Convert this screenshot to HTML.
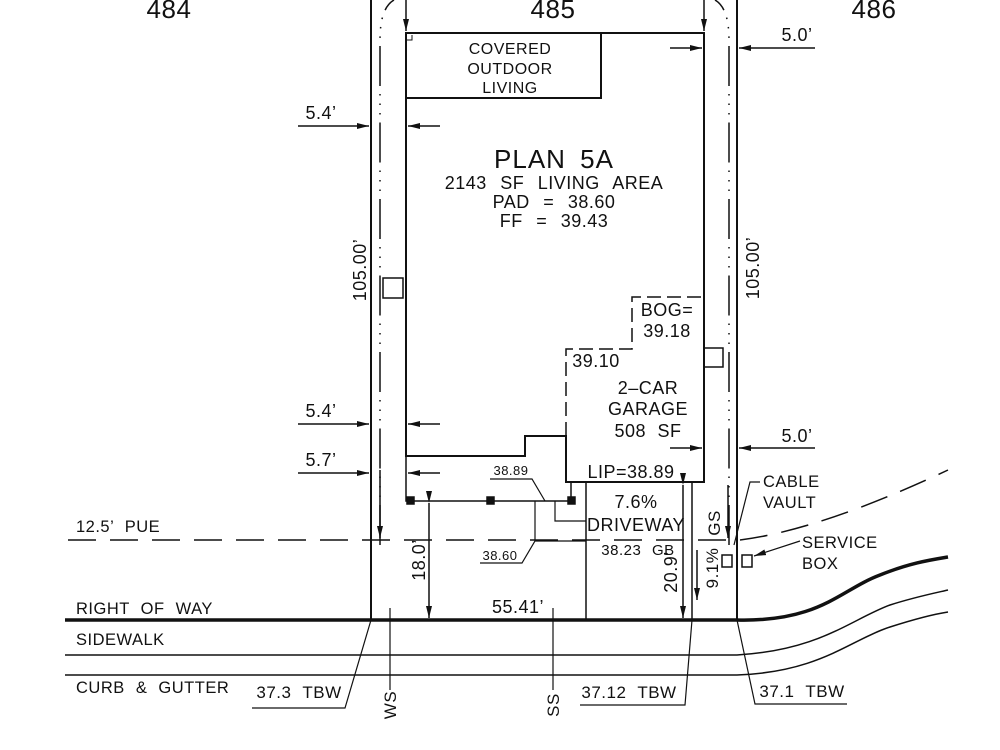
<!DOCTYPE html>
<html><head><meta charset="utf-8"><style>
html,body{margin:0;padding:0;background:#fff;}
svg{display:block}
text{font-family:"Liberation Sans","DejaVu Sans",sans-serif;fill:#111;word-spacing:6px;letter-spacing:0.5px;}
</style></head><body>
<svg width="1000" height="750" viewBox="0 0 1000 750" xmlns="http://www.w3.org/2000/svg">
<defs>
<marker id="a" viewBox="0 0 12 6" refX="12" refY="3" markerWidth="12" markerHeight="6" markerUnits="userSpaceOnUse" orient="auto"><path d="M0,0 L12,3 L0,6 z" fill="#111"/></marker>
</defs>
<g stroke="#111" fill="none" stroke-width="1.5">
<line x1="371" y1="0" x2="371" y2="620" stroke-width="2"/>
<line x1="737" y1="0" x2="737" y2="620" stroke-width="2"/>
<path d="M380,545 L380,40 Q380,8 394,0" stroke-dasharray="40 8 1.5 8 1.5 8 1.5 8"/>
<path d="M729,545 L729,40 Q729,8 715,0" stroke-dasharray="40 8 1.5 8 1.5 8 1.5 8"/>
<path d="M406,33 L704,33 L704,482 L566,482 L566,436 L525,436 L525,456 L406,456 Z" stroke-width="2"/>
<path d="M406,98 L601,98 L601,33" stroke-width="2"/>
<path d="M406,40 L412,40 L412,35" stroke-width="1"/>
<path d="M566,436 L566,349 L632,349 L632,297 L704,297" stroke-dasharray="14 6"/>
<rect x="383" y="278" width="20" height="20"/>
<rect x="704" y="348" width="19" height="19"/>
<path d="M406,456 L406,501 L571,501 L571,482"/>
<rect x="407" y="497" width="7" height="7" fill="#111"/>
<rect x="487" y="497" width="7" height="7" fill="#111"/>
<rect x="568" y="497" width="7" height="7" fill="#111"/>
<path d="M490,479 L532,479 L545,501" stroke-width="1.2"/>
<path d="M480,563 L522,563 L535,541 L586,541" stroke-width="1.2"/>
<path d="M535,501 L535,541" stroke-width="1.2"/>
<path d="M555,501 L555,521 L586,521" stroke-width="1.2"/>
<line x1="586" y1="482" x2="586" y2="620"/>
<line x1="692" y1="482" x2="692" y2="620"/>
<line x1="683" y1="485" x2="683" y2="618" marker-start="url(#a)" marker-end="url(#a)"/>
<line x1="429" y1="503" x2="429" y2="618" marker-start="url(#a)" marker-end="url(#a)"/>
<path d="M68,540 L740,540 Q820,530 948,470" stroke-dasharray="28 14" stroke-width="1.5"/>
<path d="M65,620 L737,620 C820,622 840,590 880,575 C910,563 930,560 948,557" stroke-width="3.5"/>
<path d="M65,655 L737,655 C820,650 850,620 890,605 C915,597 935,593 948,590" stroke-width="1.5"/>
<path d="M65,675 L737,675 C820,672 850,640 890,627 C915,619 935,614 948,612" stroke-width="1.5"/>
<line x1="406" y1="0" x2="406" y2="31" marker-end="url(#a)"/>
<line x1="704" y1="0" x2="704" y2="31" marker-end="url(#a)"/>
<line x1="380" y1="470" x2="380" y2="538" marker-end="url(#a)"/>
<line x1="728" y1="485" x2="728" y2="538" marker-end="url(#a)"/>
<line x1="697" y1="550" x2="697" y2="600" marker-end="url(#a)"/>
<line x1="298" y1="126" x2="369" y2="126" marker-end="url(#a)"/>
<line x1="440" y1="126" x2="408" y2="126" marker-end="url(#a)"/>
<line x1="298" y1="424" x2="369" y2="424" marker-end="url(#a)"/>
<line x1="440" y1="424" x2="408" y2="424" marker-end="url(#a)"/>
<line x1="298" y1="473" x2="369" y2="473" marker-end="url(#a)"/>
<line x1="440" y1="473" x2="408" y2="473" marker-end="url(#a)"/>
<line x1="815" y1="48" x2="739" y2="48" marker-end="url(#a)"/>
<line x1="670" y1="48" x2="702" y2="48" marker-end="url(#a)"/>
<line x1="815" y1="448" x2="739" y2="448" marker-end="url(#a)"/>
<line x1="670" y1="448" x2="702" y2="448" marker-end="url(#a)"/>
<rect x="722" y="555" width="10" height="12"/>
<rect x="742" y="555" width="10" height="12"/>
<path d="M734,545 L750,482 L760,482" stroke-width="1.2"/>
<line x1="800" y1="541" x2="754" y2="556" marker-end="url(#a)" stroke-width="1.2"/>
<path d="M252,708 L345,708 L371,620" stroke-width="1.2"/>
<path d="M580,705 L685,705 L692,620" stroke-width="1.2"/>
<path d="M737,620 L755,704 L847,704" stroke-width="1.2"/>
<line x1="390" y1="608" x2="390" y2="690" stroke-width="1.2"/>
<line x1="553" y1="608" x2="553" y2="690" stroke-width="1.2"/>
</g>
<g font-size="26" text-anchor="middle">
<text x="169" y="18">484</text>
<text x="553" y="18">485</text>
<text x="874" y="18">486</text>
</g>
<g font-size="16" text-anchor="middle">
<text x="510" y="54">COVERED</text>
<text x="510" y="74">OUTDOOR</text>
<text x="510" y="93">LIVING</text>
<text x="554" y="168" font-size="26" style="letter-spacing:1px">PLAN  5A</text>
<text x="554" y="189" font-size="18" style="word-spacing:8px">2143  SF  LIVING  AREA</text>
<text x="554" y="208" font-size="18" style="word-spacing:8px">PAD  =  38.60</text>
<text x="554" y="227" font-size="18" style="word-spacing:8px">FF  =  39.43</text>
<text x="667" y="316" font-size="18">BOG=</text>
<text x="667" y="337" font-size="18">39.18</text>
<text x="596" y="367" font-size="18">39.10</text>
<text x="648" y="394" font-size="18">2–CAR</text>
<text x="648" y="415" font-size="18">GARAGE</text>
<text x="648" y="437" font-size="18">508  SF</text>
<text x="631" y="478" font-size="18">LIP=38.89</text>
<text x="636" y="508" font-size="18">7.6%</text>
<text x="636" y="531" font-size="18">DRIVEWAY</text>
<text x="638" y="555" font-size="15">38.23  GB</text>
<text x="511" y="475" font-size="13">38.89</text>
<text x="500" y="560" font-size="13">38.60</text>
<text x="321" y="119" font-size="18">5.4’</text>
<text x="321" y="417" font-size="18">5.4’</text>
<text x="321" y="466" font-size="18">5.7’</text>
<text x="797" y="41" font-size="18">5.0’</text>
<text x="797" y="442" font-size="18">5.0’</text>
<text x="518" y="613" font-size="18">55.41’</text>
<text x="629" y="698" font-size="17">37.12  TBW</text>
<text x="299" y="698" font-size="17">37.3  TBW</text>
<text x="802" y="697" font-size="17">37.1  TBW</text>
</g>
<g font-size="16.5">
<text x="76" y="532">12.5’  PUE</text>
<text x="76" y="614">RIGHT  OF  WAY</text>
<text x="76" y="645">SIDEWALK</text>
<text x="76" y="693">CURB  &amp;  GUTTER</text>
<text x="763" y="487">CABLE</text>
<text x="763" y="508">VAULT</text>
<text x="802" y="548">SERVICE</text>
<text x="802" y="569">BOX</text>
</g>
<g font-size="18" text-anchor="middle">
<text transform="translate(366,270) rotate(-90)">105.00’</text>
<text transform="translate(759,268) rotate(-90)">105.00’</text>
<text transform="translate(425,560) rotate(-90)">18.0’</text>
<text transform="translate(677,572) rotate(-90)">20.9’</text>
<text transform="translate(718,568) rotate(-90)" font-size="17">9.1%</text>
<text transform="translate(720,523) rotate(-90)" font-size="17">GS</text>
<text transform="translate(396,705) rotate(-90)" font-size="17">WS</text>
<text transform="translate(559,705) rotate(-90)" font-size="17">SS</text>
</g>
</svg>
</body></html>
